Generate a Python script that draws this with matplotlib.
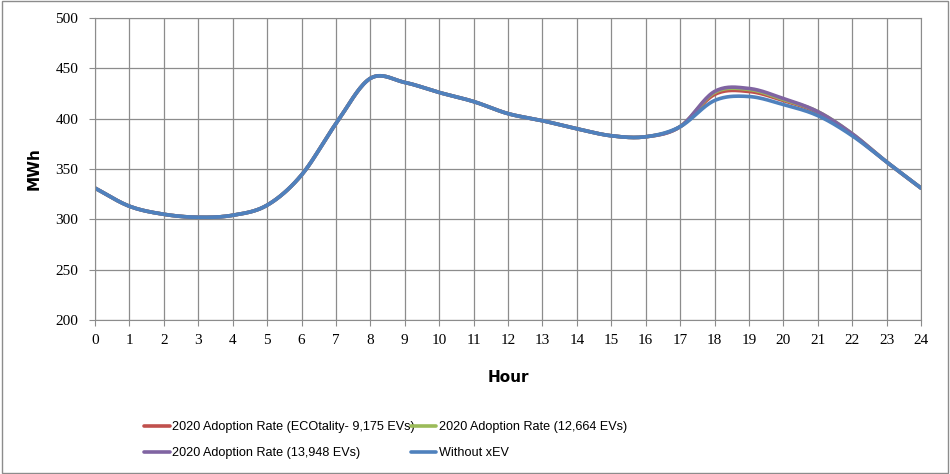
import matplotlib.pyplot as plt
import numpy as np

HOURS = list(range(25))
WITHOUT_XEV = [331, 313, 305, 302, 304, 314, 344, 395, 440, 436, 426, 417, 405,
               398, 390, 383, 382, 392, 418, 422, 414, 403, 383, 357, 331]
ECOTALITY = WITHOUT_XEV[:18] + [424, 427, 418, 406, 384, 357, 331]
EVS_12664 = WITHOUT_XEV[:18] + [426, 429, 419, 407, 385, 357, 331]
EVS_13948 = WITHOUT_XEV[:18] + [427, 430, 420, 407, 385, 357, 331]

LABELS = [
    "2020 Adoption Rate (ECOtality- 9,175 EVs)",
    "2020 Adoption Rate (12,664 EVs)",
    "2020 Adoption Rate (13,948 EVs)",
    "Without xEV",
]
COLORS = ["#C0504D", "#9BBB59", "#8064A2", "#4F81BD"]
Y_TICKS = [200, 250, 300, 350, 400, 450, 500]
TICK_FONT = ["Liberation Serif", "DejaVu Serif"]


def smooth(x, y, n=20):
    # Catmull-Rom, close to Excel's smoothed line
    x = np.asarray(x, float)
    y = np.asarray(y, float)
    px = np.concatenate([[2 * x[0] - x[1]], x, [2 * x[-1] - x[-2]]])
    py = np.concatenate([[2 * y[0] - y[1]], y, [2 * y[-1] - y[-2]]])
    xs, ys = [], []
    t = np.linspace(0, 1, n, endpoint=False)
    for i in range(1, len(px) - 2):
        for arr, out in ((px, xs), (py, ys)):
            p0, p1, p2, p3 = arr[i - 1], arr[i], arr[i + 1], arr[i + 2]
            out.extend(0.5 * (2 * p1 + (-p0 + p2) * t
                              + (2 * p0 - 5 * p1 + 4 * p2 - p3) * t ** 2
                              + (-p0 + 3 * p1 - 3 * p2 + p3) * t ** 3))
    xs.append(x[-1])
    ys.append(y[-1])
    return np.array(xs), np.array(ys)


fig = plt.figure(figsize=(9.5, 4.74), dpi=100)
fig.patches.append(plt.Rectangle((0.002, 0.002), 0.996, 0.996, transform=fig.transFigure,
                                 fill=False, edgecolor="#8c8c8c", linewidth=1))
ax = fig.add_axes([0.1, 0.325, 0.8695, 0.637])

series = [ECOTALITY, EVS_12664, EVS_13948, WITHOUT_XEV]
handles = []
for vals, color, label in zip(series, COLORS, LABELS):
    sx, sy = smooth(HOURS, vals)
    h, = ax.plot(sx, sy, color=color, linewidth=2.6, label=label, solid_capstyle="round")
    handles.append(h)

ax.set_xlim(0, 24)
ax.set_ylim(200, 500)
ax.set_xticks(HOURS)
ax.set_xticklabels([str(h) for h in HOURS], fontfamily=TICK_FONT, fontsize=11)
ax.set_yticks(Y_TICKS)
ax.set_yticklabels([str(v) for v in Y_TICKS], fontfamily=TICK_FONT, fontsize=11)
ax.grid(True, color="#8c8c8c", linewidth=0.9)
ax.set_axisbelow(True)
for side in ax.spines.values():
    side.set_color("#8c8c8c")
ax.tick_params(length=4, color="#8c8c8c")
ax.tick_params(axis="y", pad=8)
ax.tick_params(axis="x", pad=6)

ax.set_xlabel("Hour", fontsize=11, fontweight="bold", labelpad=17)
ax.set_ylabel("MWh", fontsize=11, fontweight="bold", labelpad=10)

order = [0, 2, 1, 3]
fig.legend([handles[i] for i in order], [LABELS[i] for i in order],
           loc="upper left", bbox_to_anchor=(0.14, 0.135), ncol=2, frameon=False,
           prop={"family": "Liberation Sans", "size": 9.1}, handlelength=2.0,
           handletextpad=0.2, columnspacing=-0.3, labelspacing=1.1)

fig.savefig("out.png", dpi=100)
